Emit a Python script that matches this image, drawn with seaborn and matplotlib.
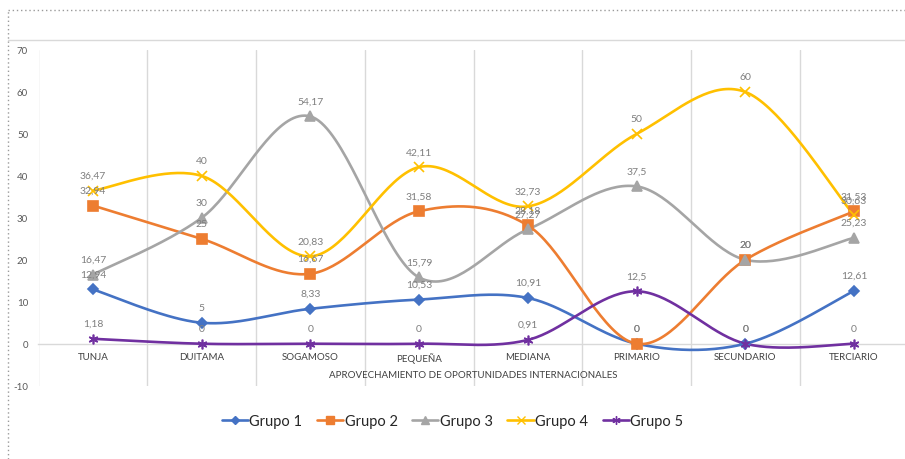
import numpy as np
import pandas as pd
import matplotlib
matplotlib.use("Agg")
import matplotlib.pyplot as plt
from matplotlib.lines import Line2D
import seaborn as sns

# ---- data -------------------------------------------------------------
categories = ["TUNJA", "DUITAMA", "SOGAMOSO", "PEQUEÑA", "MEDIANA",
              "PRIMARIO", "SECUNDARIO", "TERCIARIO"]
grupo_1 = [12.94, 5, 8.33, 10.53, 10.91, 0, 0, 12.61]
grupo_2 = [32.94, 25, 16.67, 31.58, 28.18, 0, 20, 31.53]
grupo_3 = [16.47, 30, 54.17, 15.79, 27.27, 37.5, 20, 25.23]
grupo_4 = [36.47, 40, 20.83, 42.11, 32.73, 50, 60, 30.63]
grupo_5 = [1.18, 0, 0, 0, 0.91, 12.5, 0, 0]
series_names = ["Grupo 1", "Grupo 2", "Grupo 3", "Grupo 4", "Grupo 5"]
y_ticks = [-10, 0, 10, 20, 30, 40, 50, 60, 70]
x_title = "APROVECHAMIENTO DE OPORTUNIDADES INTERNACIONALES"

series_values = [grupo_1, grupo_2, grupo_3, grupo_4, grupo_5]
colors = ["#4472C4", "#ED7D31", "#A5A5A5", "#FFC000", "#7030A0"]
markers = ["D", "s", "^", "x", (6, 2, 0)]
marker_sizes = [5, 6.5, 6.5, 6.5, 7]


def smooth_curve(xs, ys, steps=40):
    """Catmull-Rom style Bezier smoothing through the given points."""
    p = np.column_stack([xs, ys]).astype(float)
    ext = np.vstack([p[0], p, p[-1]])
    t = np.linspace(0, 1, steps)[:, None]
    parts = []
    for i in range(len(p) - 1):
        p0, p1, p2, p3 = ext[i], ext[i + 1], ext[i + 2], ext[i + 3]
        c1 = p1 + (p2 - p0) / 6
        c2 = p2 - (p3 - p1) / 6
        seg = ((1 - t) ** 3) * p1 + 3 * ((1 - t) ** 2) * t * c1 \
            + 3 * (1 - t) * (t ** 2) * c2 + (t ** 3) * p2
        parts.append(seg if i == 0 else seg[1:])
    return np.vstack(parts)


def fmt(v):
    s = f"{v:.2f}".rstrip("0").rstrip(".")
    return s.replace(".", ",")


sns.set_style("white")
plt.rcParams["font.family"] = ["Lato", "DejaVu Sans"]

W, H = 905, 460
fig = plt.figure(figsize=(W / 100, H / 100), dpi=100)

# plot area: x from 38.5px spanning 8 categories of ~108.8px, y from -10 to 70
ax = fig.add_axes([38.5 / W, (H - 386.7) / H, 870 / W, (386.7 - 51) / H])

x_pos = np.arange(len(categories))

# smoothed lines through seaborn
rows = []
for name, vals in zip(series_names, series_values):
    curve = smooth_curve(x_pos, vals)
    for k, (cx, cy) in enumerate(curve):
        rows.append({"serie": name, "orden": k, "x": cx, "y": cy})
curves = pd.DataFrame(rows)
for name, col in zip(series_names, colors):
    sub = curves[curves["serie"] == name]
    sns.lineplot(data=sub, x="x", y="y", sort=False, estimator=None,
                 color=col, linewidth=1.9, ax=ax, zorder=3)

# markers at the data points
for vals, col, mk, ms in zip(series_values, colors, markers, marker_sizes):
    ax.plot(x_pos, vals, linestyle="none", marker=mk, markersize=ms,
            color=col, markeredgecolor=col, markeredgewidth=1.2, zorder=4)

# data labels
for vals in series_values:
    for xi, v in zip(x_pos, vals):
        ax.annotate(fmt(v), (xi, v), xytext=(0, 11), textcoords="offset points",
                    ha="center", va="center", fontsize=7.5, color="#7F7F7F",
                    zorder=6)

ax.set_xlim(-0.5, len(categories) - 0.5)
ax.set_ylim(-10, 70)
ax.set_xlabel("")
ax.set_ylabel("")
ax.set_yticks(y_ticks)
ax.set_yticklabels([str(v) for v in y_ticks])
ax.set_xticks(x_pos)
ax.set_xticklabels(categories)
ax.tick_params(axis="both", length=0)
ax.tick_params(axis="y", pad=7.5, labelsize=7, labelcolor="#595959")
ax.tick_params(axis="x", pad=6, labelsize=7, labelcolor="#404040")

# category separators and zero axis line
for b in np.arange(-0.5, len(categories) - 0.5, 1.0):
    ax.axvline(b, color="#D9D9D9", linewidth=1, zorder=1)
for side in ["top", "right", "left"]:
    ax.spines[side].set_visible(False)
ax.spines["bottom"].set_position(("data", 0))
ax.spines["bottom"].set_color("#D9D9D9")
ax.spines["bottom"].set_linewidth(1)
ax.grid(False)

fig.text((38.5 + 435) / W, (H - 376) / H, x_title, ha="center", va="center",
         fontsize=7, color="#404040")

# legend
handles = [Line2D([0], [0], color=c, marker=m, markersize=ms * 0.85,
                  markeredgecolor=c, linewidth=1.9)
           for c, m, ms in zip(colors, markers, marker_sizes)]
fig.legend(handles, series_names, loc="center", bbox_to_anchor=(0.5, (H - 422) / H),
           ncol=5, frameon=False, fontsize=10.5, handlelength=1.8,
           handletextpad=0.1, columnspacing=1.0)

# chart frame lines
fig.add_artist(Line2D([8 / W, 1], [1 - 11 / H, 1 - 11 / H], linestyle=(0, (1, 2)),
                      color="#9A9A9A", linewidth=1))
fig.add_artist(Line2D([8 / W, 8 / W], [0, 1 - 11 / H], linestyle=(0, (1, 2)),
                      color="#9A9A9A", linewidth=1))
fig.add_artist(Line2D([8 / W, 1], [1 - 41 / H, 1 - 41 / H],
                      color="#D9D9D9", linewidth=1))

fig.savefig("out.png", dpi=100)
